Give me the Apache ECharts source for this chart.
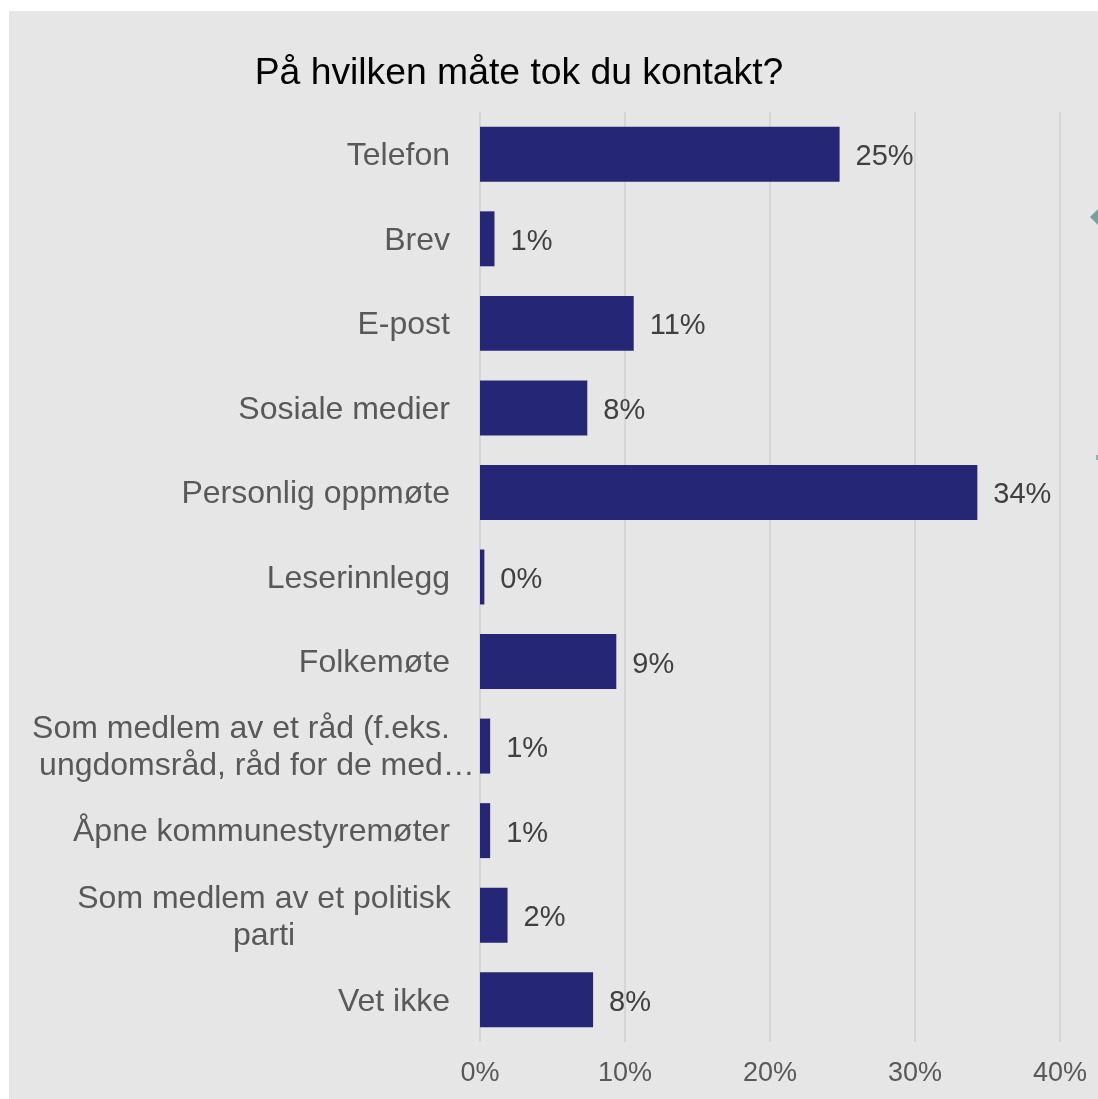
<!DOCTYPE html>
<html>
<head>
<meta charset="utf-8">
<script src="https://cdn.jsdelivr.net/npm/echarts@6/dist/echarts.min.js"></script>
<style>
  html, body { margin: 0; padding: 0; background: #ffffff; width: 1098px; height: 1099px; overflow: hidden; }
  #chart { position: absolute; left: 9px; top: 11px; width: 1089px; height: 1088px; }
</style>
</head>
<body>
<div id="chart"></div>
<script>
const titleText = 'På hvilken måte tok du kontakt?';
const categories = [
  'Telefon',
  'Brev',
  'E-post',
  'Sosiale medier',
  'Personlig oppmøte',
  'Leserinnlegg',
  'Folkemøte',
  'Som medlem av et råd (f.eks.\nungdomsråd, råd for de med…',
  'Åpne kommunestyremøter',
  'Som medlem av et politisk\nparti',
  'Vet ikke'
];
const values = [24.8, 1.0, 10.6, 7.4, 34.3, 0.3, 9.4, 0.7, 0.7, 1.9, 7.8];
const valueLabels = ['25%', '1%', '11%', '8%', '34%', '0%', '9%', '1%', '1%', '2%', '8%'];
const xTicks = [0, 10, 20, 30, 40];

const chart = echarts.init(document.getElementById('chart'));

function catFormatter(v) {
  if (v.indexOf('råd (f.eks.') >= 0) {
    const parts = v.split('\n');
    return '{r1|' + parts[0] + '}\n{r2|' + parts[1] + '}';
  }
  if (v.indexOf('\n') >= 0) {
    const parts = v.split('\n');
    return parts.map(p => '{c|' + p + '}').join('\n');
  }
  return v;
}

chart.setOption({
  backgroundColor: '#e6e6e6',
  animation: false,
  title: {
    text: titleText,
    left: 505,
    top: 39,
    textAlign: 'center',
    textStyle: { fontFamily: 'Liberation Sans', fontSize: 37.3, fontWeight: 'normal', color: '#000000' }
  },
  grid: { left: 471, right: 38, top: 101, bottom: 57, containLabel: false },
  xAxis: {
    type: 'value',
    min: xTicks[0],
    max: xTicks[xTicks.length - 1],
    interval: 10,
    axisLine: { show: false },
    axisTick: { show: false },
    splitLine: { show: true, lineStyle: { color: '#d6d6d6', width: 2 } },
    axisLabel: {
      formatter: '{value}%',
      fontFamily: 'Liberation Sans',
      fontSize: 27,
      color: '#595959',
      margin: 18
    }
  },
  yAxis: {
    type: 'category',
    inverse: true,
    data: categories,
    axisLine: { show: false },
    axisTick: { show: false },
    splitLine: { show: false },
    axisLabel: {
      fontFamily: 'Liberation Sans',
      fontSize: 32,
      color: '#595959',
      margin: 30,
      lineHeight: 37,
      padding: [4, 0, 0, 0],
      formatter: catFormatter,
      rich: {
        c: { fontFamily: 'Liberation Sans', fontSize: 32, color: '#595959', width: 372, align: 'center', lineHeight: 37 },
        r1: { fontFamily: 'Liberation Sans', fontSize: 32, color: '#595959', lineHeight: 37 },
        r2: { fontFamily: 'Liberation Sans', fontSize: 32, color: '#595959', width: 410, align: 'left', lineHeight: 37, padding: [0, 0, 0, 7] }
      }
    }
  },
  series: [{
    type: 'bar',
    data: values,
    barCategoryGap: '35%',
    itemStyle: { color: '#262676' },
    label: {
      show: true,
      position: 'right',
      distance: 16,
      offset: [0, 3],
      fontFamily: 'Liberation Sans',
      fontSize: 29,
      color: '#404040',
      formatter: p => valueLabels[p.dataIndex]
    }
  }],
  graphic: [
    { type: 'polygon', shape: { points: [[1081, 206], [1089, 198], [1089, 214]] }, style: { fill: '#7b9fa0' }, silent: true },
    { type: 'rect', shape: { x: 1087, y: 444, width: 2, height: 5 }, style: { fill: '#8fb0b0' }, silent: true }
  ]
});
</script>
</body>
</html>
